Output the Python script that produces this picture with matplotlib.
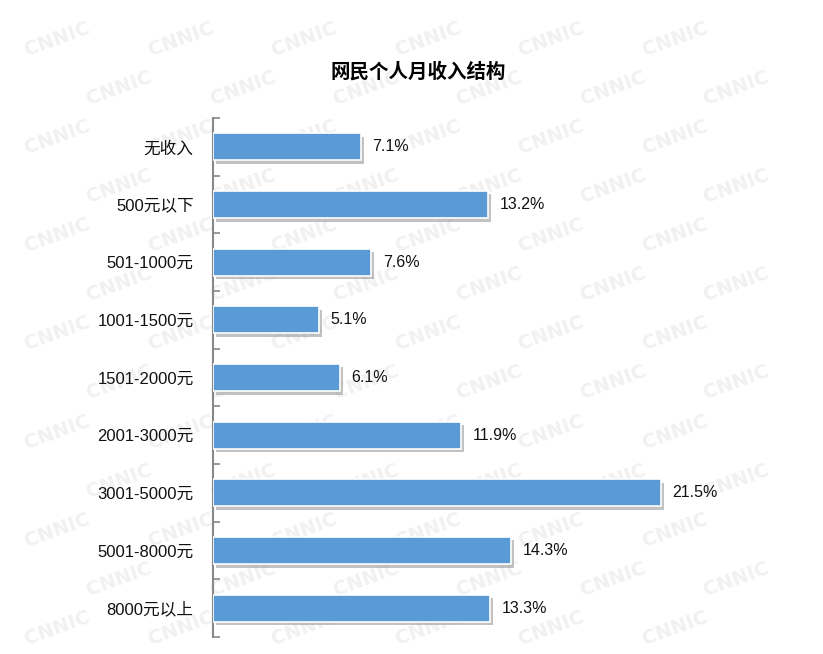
import matplotlib
matplotlib.use("Agg")
import matplotlib.pyplot as plt
import matplotlib.patheffects as pe
import numpy as np

plt.rcParams['font.family'] = ['Noto Sans CJK SC', 'DejaVu Sans']

# data
categories = ['无收入', '500元以下', '501-1000元', '1001-1500元', '1501-2000元',
              '2001-3000元', '3001-5000元', '5001-8000元', '8000元以上']
shares = [7.1, 13.2, 7.6, 5.1, 6.1, 11.9, 21.5, 14.3, 13.3]
title = '网民个人月收入结构'

fig = plt.figure(figsize=(8.23, 6.54), dpi=100)
fig.patch.set_facecolor('white')

# faint CNNIC watermark in a background axes
bg = fig.add_axes([0, 0, 1, 1], zorder=-5)
bg.set_xlim(0, 1)
bg.set_ylim(0, 1)
bg.axis('off')
for row in range(13):
    for col in range(7):
        x = 0.07 + col * 0.15 + (row % 2) * 0.075
        yy = 0.04 + row * 0.075
        if x > 0.94 or yy > 0.96:
            continue
        bg.text(x, yy, 'CNNIC', fontsize=14, fontweight='bold', color='#f1f1f1',
                rotation=20, ha='center', va='center', family='DejaVu Sans')

ax = fig.add_axes([0.2588, 0.026, 0.633, 0.7936], zorder=2)
ax.patch.set_alpha(0)

y = np.arange(len(categories))
bars = ax.barh(y, shares, height=0.47, color='#5B9BD5', edgecolor='white', linewidth=1.2, zorder=3)
for b in bars:
    b.set_path_effects([pe.SimplePatchShadow(offset=(2, -2.5), shadow_rgbFace='#9a9a9a', alpha=0.6),
                        pe.Normal()])

for yi, v in zip(y, shares):
    ax.text(v + 0.55, yi, f'{v}%', va='center', ha='left', fontsize=11.5,
            family=['Liberation Sans', 'DejaVu Sans'], color='#111111')

ax.set_xlim(0, 25)
ax.set_ylim(len(categories) - 0.5, -0.5)
ax.set_yticks(y)
ax.set_yticklabels(categories, fontsize=12, family=['Liberation Sans', 'Noto Sans CJK SC'],
                   color='#111111')
ax.tick_params(axis='y', which='major', length=0, pad=14)
ax.set_yticks(np.arange(-0.5, len(categories)), minor=True)
ax.tick_params(axis='y', which='minor', direction='in', length=5, width=1.2, color='#888888')
ax.set_xticks([])
for s in ['top', 'right', 'bottom']:
    ax.spines[s].set_visible(False)
ax.spines['left'].set_color('#888888')
ax.spines['left'].set_linewidth(1.5)

fig.text(0.508, 0.89, title, fontsize=14, fontweight='bold', ha='center', va='center')

fig.savefig('out.png', dpi=100, facecolor='white')
